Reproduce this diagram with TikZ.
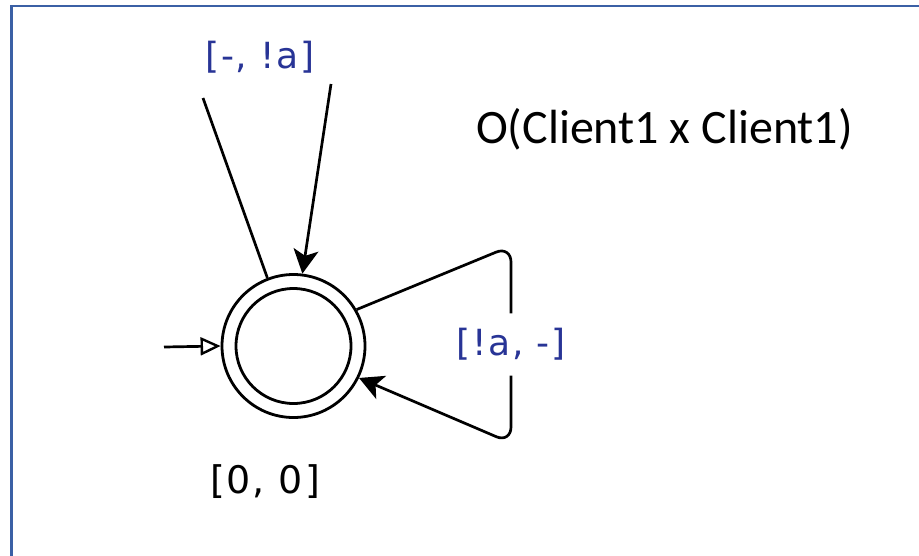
\documentclass[tikz,border=0pt]{standalone}
\usepackage{fontspec}
\setmainfont{Carlito}
\newfontfamily\lblfont[LetterSpace=5]{DejaVu Sans}
\usetikzlibrary{arrows.meta}
\definecolor{framecol}{RGB}{59,96,165}
\definecolor{lblblue}{RGB}{40,52,150}
\tikzset{
  x=1pt, y=-1pt,
  statecirc/.style={draw, circle, line width=2.8pt, inner sep=0pt},
  edge/.style={line width=2.7pt, line join=round},
  tipfill/.style={-{Stealth[length=24pt, width=25pt, inset=6pt]}},
  tipopen/.style={-{Triangle[open, length=20pt, width=18pt, line width=2.4pt]}},
  bluelbl/.style={font=\lblfont\fontsize{36}{42}\selectfont, text=lblblue, inner sep=0pt},
  blacklbl/.style={font=\lblfont\fontsize{38}{44}\selectfont, text=black, inner sep=0pt},
}
\begin{document}
\begin{tikzpicture}
\useasboundingbox (0,0) rectangle (919,555);
\clip (0,0) rectangle (919,555);
\fill[white] (0,0) rectangle (919,555);
\draw[framecol, line width=2.5pt] (11.5,6) rectangle (940,580);

\node[statecirc, minimum size=143pt] (s) at (293.5,346) {};
\node[statecirc, minimum size=115pt] (si) at (s.center) {};

\node[blacklbl] (name) at (265,482) {[0, 0]};
\node[font=\fontsize{48}{56}\selectfont, anchor=base west, inner sep=0pt] (title) at (476,143) {O(Client1 x Client1)};

% initial arrow
\coordinate (init) at (164,347);
\draw[edge, tipopen] (init) -- (s.west);

% top self-loop
\node[bluelbl] (toplbl) at (260,57) {[-, !a]};
\coordinate (ta) at (203,98);
\coordinate (tb) at (331,84);
\draw[edge] (ta) -- (s.111);
\draw[edge, tipfill] (tb) -- (s.83);

% right self-loop
\coordinate (c1) at (511,246);
\coordinate (c2) at (511,443);
\draw[edge, tipfill, rounded corners=16pt] (s.30) -- (c1) -- node[bluelbl, fill=white, inner xsep=2pt, inner ysep=15pt] (rlbl) {[!a, -]} (c2) -- (s.-26);
\end{tikzpicture}
\end{document}
